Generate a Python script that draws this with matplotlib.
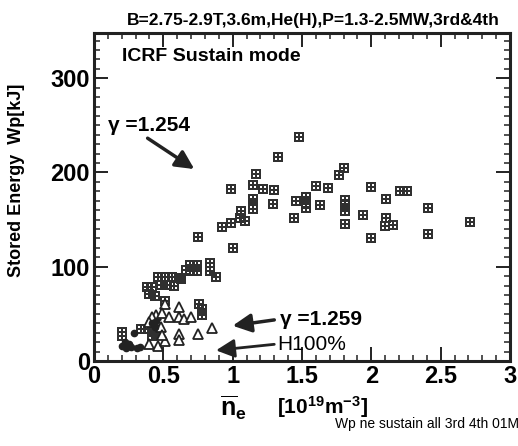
import numpy as np
import matplotlib
matplotlib.use("Agg")
import matplotlib.pyplot as plt
from matplotlib.path import Path
from matplotlib.ticker import MultipleLocator

plt.rcParams['font.family'] = ['Liberation Sans', 'DejaVu Sans']
plt.rcParams['mathtext.fontset'] = 'custom'
plt.rcParams['mathtext.rm'] = 'Liberation Sans'
plt.rcParams['mathtext.bf'] = 'Liberation Sans:bold'

# gamma = 1.254 group (squares)
sq_ne = [0.20, 0.20, 0.34, 0.39, 0.43, 0.47, 0.42, 0.46,
         0.38, 0.42, 0.40, 0.44, 0.46, 0.51, 0.56, 0.61, 0.48, 0.53, 0.58,
         0.63, 0.66, 0.69, 0.74, 0.69, 0.74, 0.84, 0.84, 0.88, 0.51,
         0.76, 0.78, 0.78,
         0.75, 1.00, 0.92, 0.99, 1.05, 1.09, 1.06, 0.99,
         1.15, 1.15, 1.15, 1.15, 1.165, 1.22, 1.30, 1.29, 1.33, 1.48,
         1.445, 1.46, 1.53, 1.53, 1.53, 1.60, 1.69, 1.63, 1.77, 1.80,
         1.81, 1.81, 1.81, 1.81, 1.94, 2.00, 2.00,
         2.105, 2.105, 2.10, 2.155, 2.21, 2.26, 2.41, 2.41, 2.71]
sq_wp = [31, 26, 34, 34, 33, 31, 27, 28,
         78, 78, 71, 69, 89, 89, 89, 88, 81, 81, 80,
         87, 97, 102, 102, 96, 96, 104, 96, 89, 64,
         61, 55, 49,
         132, 120, 142, 146, 152, 149, 159, 183,
         161, 166, 172, 187, 198, 182, 181, 167, 216, 238,
         152, 170, 174, 168, 162, 186, 184, 166, 197, 205,
         171, 165, 159, 145, 155, 185, 130,
         172, 152, 143, 144, 180, 180, 162, 135, 148]

# gamma = 1.259 group (open triangles)
tri_ne = [0.51, 0.61, 0.45, 0.49, 0.54, 0.61, 0.65, 0.70, 0.42, 0.40,
          0.75, 0.85, 0.61, 0.61, 0.40, 0.46, 0.51, 0.48, 0.49]
tri_wp = [61, 57, 49, 51, 47, 47, 45, 47, 47, 41,
          29, 35, 29, 22, 18, 16, 21, 36, 28]

# H100% group (filled dots)
h_ne = [0.29, 0.20, 0.23, 0.27, 0.31, 0.22, 0.25, 0.33, 0.42, 0.45, 0.44]
h_wp = [30, 16, 14, 15, 14, 20, 18, 15, 40, 42, 36]

# square marker with four white windows
v = [(-1, -1), (1, -1), (1, 1), (-1, 1), (-1, -1)]
c = [Path.MOVETO, Path.LINETO, Path.LINETO, Path.LINETO, Path.CLOSEPOLY]
for x0, x1 in [(-0.62, -0.14), (0.14, 0.62)]:
    for y0, y1 in [(-0.62, -0.14), (0.14, 0.62)]:
        v += [(x0, y0), (x0, y1), (x1, y1), (x1, y0), (x0, y0)]
        c += [Path.MOVETO, Path.LINETO, Path.LINETO, Path.LINETO, Path.CLOSEPOLY]
grid_sq = Path(v, c)

ink = "#222222"
fig = plt.figure(figsize=(5.18, 4.46), dpi=100)
ax = fig.add_axes([94/518, 1-361/446, 416/518, 328/446])

ax.plot(sq_ne, sq_wp, ls="", marker=grid_sq, ms=6.8, mfc="#303030", mew=0, zorder=3)
ax.plot(tri_ne, tri_wp, ls="", marker="^", ms=6.5, mfc="white", mec=ink, mew=1.3, zorder=4)
ax.plot(h_ne, h_wp, ls="", marker="o", ms=4.5, mfc=ink, mec=ink, zorder=5)

ax.set_xlim(0, 3)
ax.set_ylim(0, 348)
ax.xaxis.set_major_locator(MultipleLocator(0.5))
ax.xaxis.set_minor_locator(MultipleLocator(0.1))
ax.yaxis.set_major_locator(MultipleLocator(100))
ax.yaxis.set_minor_locator(MultipleLocator(10))
ax.set_xticks([0, 0.5, 1, 1.5, 2, 2.5, 3])
ax.set_xticklabels(["0", "0.5", "1", "1.5", "2", "2.5", "3"])
ax.tick_params(which="both", direction="in", top=True, right=True, color=ink)
ax.tick_params(which="major", length=10, width=1.4, labelsize=17, pad=3)
ax.tick_params(which="minor", length=4, width=1.1)
for lab in ax.get_xticklabels() + ax.get_yticklabels():
    lab.set_fontweight("bold")
for s in ax.spines.values():
    s.set_linewidth(2.2)
    s.set_color(ink)

ax.text(0.2, 323, "ICRF Sustain mode", fontsize=14, fontweight="bold", va="center")
ax.text(0.10, 250, "\u03b3 =1.254", fontsize=15, fontweight="bold", va="center")
ax.annotate("", xy=(0.74, 202), xytext=(0.37, 238),
            arrowprops=dict(arrowstyle="-|>", lw=2.5, color=ink, mutation_scale=28))
ax.text(1.34, 44, "\u03b3 =1.259", fontsize=15, fontweight="bold", va="center")
ax.annotate("", xy=(0.98, 37), xytext=(1.32, 44),
            arrowprops=dict(arrowstyle="-|>", lw=2.5, color=ink, mutation_scale=28))
ax.text(1.32, 17, "H100%", fontsize=15, va="center")
ax.annotate("", xy=(0.86, 11), xytext=(1.32, 18),
            arrowprops=dict(arrowstyle="-|>", lw=2.0, color=ink, mutation_scale=28))

fig.text(313/518, 1-21/446, "B=2.75-2.9T,3.6m,He(H),P=1.3-2.5MW,3rd&4th",
         fontsize=12.5, fontweight="bold", ha="center", va="center")
fig.text(17/518, 1-180/446, "Stored Energy  Wp[kJ]", fontsize=13, fontweight="bold",
         rotation=90, ha="center", va="center")
fig.text(220/518, 1-408/446, r"$\overline{\mathbf{n}}_{\mathbf{e}}$", fontsize=18, va="center")
fig.text(277/518, 1-407/446, r"$\mathbf{[10^{19}m^{-3}]}$", fontsize=15, va="center")
fig.text(335/518, 1-424/446, "Wp ne sustain all 3rd 4th 01M", fontsize=10, va="center")

fig.savefig("out.png", dpi=100)
